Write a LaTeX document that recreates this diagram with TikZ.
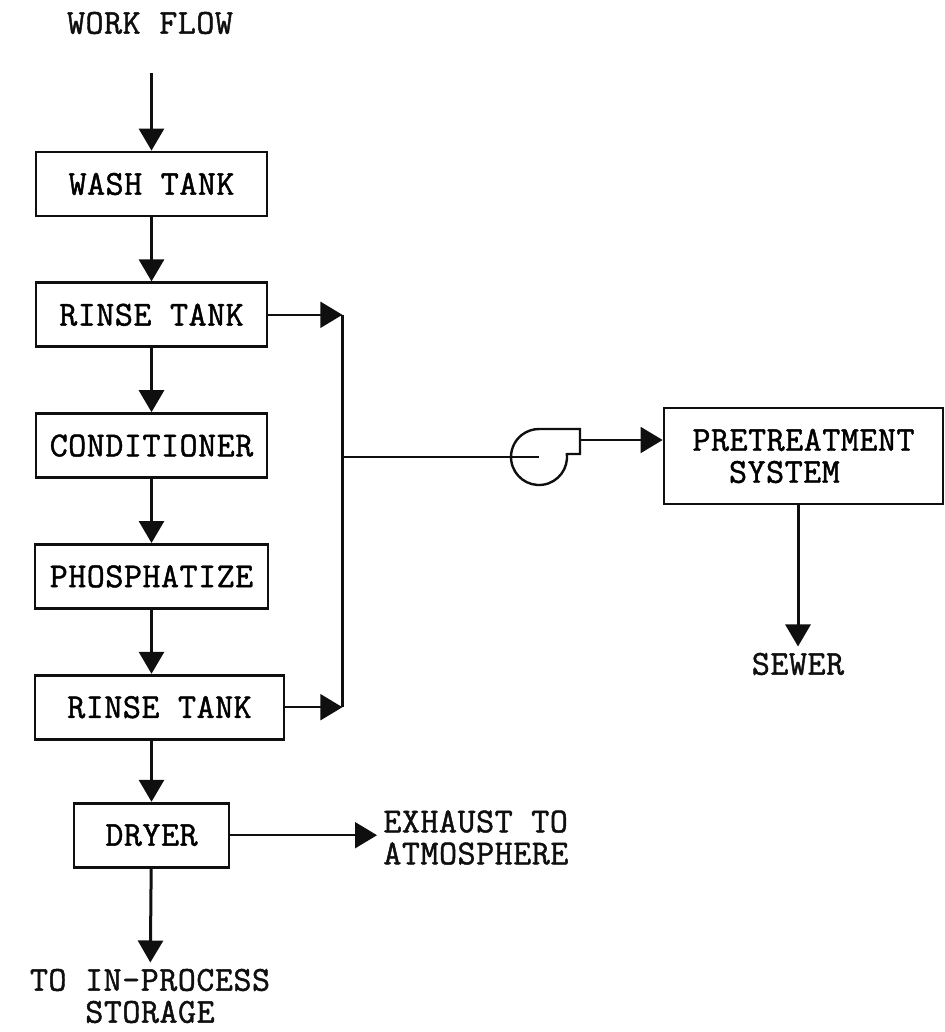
\documentclass[tikz,border=0pt]{standalone}
\usepackage{fontspec}
\newfontfamily\typefont{Latin Modern Mono}[FakeBold=1.3,LetterSpace=1.5]
\usetikzlibrary{arrows.meta,positioning}
\definecolor{typeink}{RGB}{15,15,15}

\begin{document}
\begin{tikzpicture}[x=0.5pt,y=-0.5pt,node distance=32pt]
        \tikzstyle{tankbox}=[draw=typeink,line width=1.4pt,minimum width=115.5pt,minimum height=32pt,align=center,inner sep=2pt,font=\fontsize{17.5}{16}\selectfont\typefont]
        \tikzstyle{tag}=[inner sep=3pt,align=center,text=typeink,font=\fontsize{17.5}{16}\selectfont\typefont]
        \tikzstyle{flow}=[-{Triangle[length=11pt,width=12.5pt]},typeink,line width=1.5pt]
        \tikzstyle{branch}=[-{Triangle[length=11pt,width=13pt]},typeink,line width=1pt]
        \tikzstyle{pipe}=[typeink,line width=1.2pt]
        \useasboundingbox (0,0) rectangle (944,1032);
        \node[tag] (workflow) at (150,23) {WORK FLOW};
        \coordinate (flowin) at (151.5,73);
        \node[tankbox] (wash) at (151.5,184) {WASH TANK};
        \node[tankbox,below=of wash] (rinsea) {RINSE TANK};
        \node[tankbox,below=of rinsea] (cond) {CONDITIONER};
        \node[tankbox,minimum width=116.5pt,below=of cond] (phos) {PHOSPHATIZE};
        \node[tankbox,minimum width=124.5pt,below=of phos.south west,anchor=north west] (rinseb) {RINSE TANK};
        \node[tankbox,minimum width=77.5pt,below=96pt of phos] (dryer) {DRYER};
        \node[tag] (storage) at (150,996) {TO IN-PROCESS\\STORAGE};
        \node[tag,align=left,anchor=north west] (exhaust) at (377,804) {EXHAUST TO\\ATMOSPHERE};
        \draw[flow] (flowin) -- (wash);
        \draw[flow] (wash) -- (rinsea);
        \draw[flow] (rinsea) -- (cond);
        \draw[flow] (cond) -- (phos);
        \draw[flow] (phos) -- (phos |- rinseb.north);
        \draw[flow] (dryer |- rinseb.south) -- (dryer);
        \draw[flow] (dryer) -- (storage);
        \draw[branch] (dryer) -- (dryer -| exhaust.west);
        % rinse water to the pump
        \draw[branch] (rinsea.east) -- ++(74,0) coordinate (jtop);
        \draw[branch] (rinseb.east) -- (rinseb.east -| jtop) coordinate (jbot);
        \draw[pipe] (jtop) -- (jbot);
        \node[circle,minimum size=28pt,inner sep=0pt] (pump) at (539,457) {};
        \draw[pipe] (jtop |- pump) -- (pump.center);
        \draw[pipe] (pump.center) ++(-8:28) arc[start angle=-8,end angle=270,radius=28] -- ++(41,0) -- ++(0,25) -- ++(-13.3,0);
        \coordinate (pout) at (580,440);
        \node[tankbox,minimum width=139.5pt,minimum height=48pt,align=left] (pre) at (803.5,456) {PRETREATMENT\\\phantom{PR}SYSTEM};
        \draw[branch] (pout) -- (pout -| pre.west);
        \node[tag] (sewer) at (798,664) {SEWER};
        \draw[flow] (sewer |- pre.south) -- (sewer);
      \end{tikzpicture}
\end{document}
